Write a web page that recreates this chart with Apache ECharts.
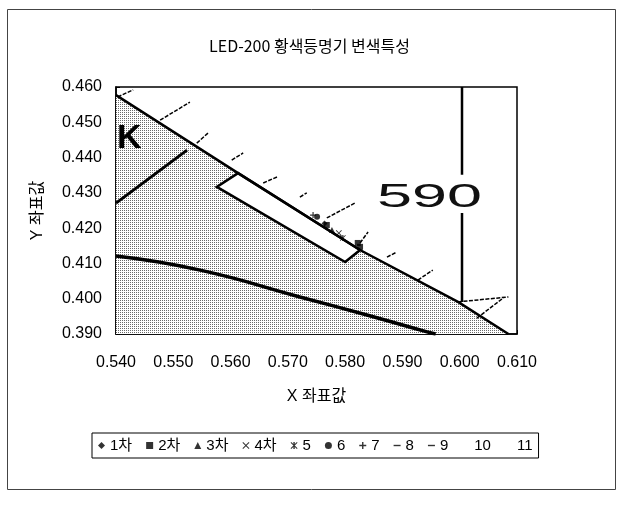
<!DOCTYPE html>
<html>
<head>
<meta charset="utf-8">
<script src="https://cdn.jsdelivr.net/npm/echarts@6/dist/echarts.min.js"></script>
<style>
html,body{margin:0;padding:0;background:#fff;}
#c{width:619px;height:506px;}
</style>
</head>
<body>
<div id="c"></div>
<script>
// ---- axis ticks ----
const xTicks = [0.540, 0.550, 0.560, 0.570, 0.580, 0.590, 0.600, 0.610];
const yTicks = [0.390, 0.400, 0.410, 0.420, 0.430, 0.440, 0.450, 0.460];

// ---- measured points (x, y) per series ----
const seriesNames = ['1차', '2차', '3차', '4차', '5', '6', '7', '8', '9', '10', '11'];
const s1 = [[0.5764, 0.4213]];
const s2 = [[0.5768, 0.4209]];
const s3 = [[0.5777, 0.4195]];
const s4 = [[0.5789, 0.4186]];
const s5 = [[0.5796, 0.4172]];
const s6 = [[0.5751, 0.4232]];
const s7 = [[0.5744, 0.4237]];
const s8 = [[0.5822, 0.4158]];
const s9 = [[0.5826, 0.4147]];
const s10 = [];
const s11 = [];

// ---- background chromaticity diagram (data coordinates) ----
const spectrumLocus = [[0.540, 0.4577], [0.5613, 0.4356], [0.5826, 0.4138], [0.5997, 0.3991], [0.6085, 0.3900]];
const grayRegion = [[0.540, 0.390], [0.540, 0.4577], [0.5613, 0.4356], [0.5826, 0.4138], [0.5997, 0.3991], [0.6085, 0.3900]];
const whiteBox = [[0.5613, 0.4356], [0.5576, 0.4317], [0.5800, 0.4104], [0.5826, 0.4138]];
const blackCurve = [[0.540, 0.4121], [0.5547, 0.4081], [0.5721, 0.4005], [0.5838, 0.3954], [0.5943, 0.3906], [0.5958, 0.3900]];
const diagonalLine = [[0.540, 0.4271], [0.5524, 0.4421]];
const line590Top = [[0.6004, 0.460], [0.6004, 0.4351]];
const line590Bottom = [[0.6004, 0.4243], [0.6004, 0.3991]];
const locusTicks = [
  [0.5403, 0.4572, 0.5430, 0.4592],
  [0.5477, 0.4506, 0.5529, 0.4557],
  [0.5541, 0.4441, 0.5561, 0.4470],
  [0.5602, 0.4393, 0.5622, 0.4413],
  [0.5657, 0.4328, 0.5681, 0.4345],
  [0.5721, 0.4288, 0.5733, 0.4300],
  [0.5768, 0.4229, 0.5817, 0.4271],
  [0.5826, 0.4158, 0.5840, 0.4189],
  [0.5873, 0.4118, 0.5890, 0.4132],
  [0.5927, 0.4053, 0.5953, 0.4081],
  [0.5997, 0.3991, 0.6085, 0.4005],
  [0.6030, 0.3945, 0.6076, 0.4002]
];

// stipple pattern for the gray region
const pc = document.createElement('canvas');
pc.width = 2; pc.height = 2;
const pctx = pc.getContext('2d');
pctx.fillStyle = '#fff'; pctx.fillRect(0, 0, 2, 2);
pctx.fillStyle = '#6a6a6a'; pctx.fillRect(0, 0, 1, 1);
const stipple = { image: pc, repeat: 'repeat' };

const FONT = '"Liberation Sans", Arial, "Noto Sans CJK KR", sans-serif';
const symbols = {
  diamond: 'diamond',
  rect: 'rect',
  triangle: 'triangle',
  cross: 'path://M1,0L5,4L9,0L10,1L6,5L10,9L9,10L5,6L1,10L0,9L4,5L0,1Z',
  star: 'path://M1,0L5,4L9,0L10,1L6,5L10,9L9,10L5,6L1,10L0,9L4,5L0,1ZM4,0H6V10H4Z',
  circle: 'circle',
  plus: 'path://M4,0H6V4H10V6H6V10H4V6H0V4H4Z',
  dash: 'path://M0,4H10V6H0Z'
};
const pointSets = [s1, s2, s3, s4, s5, s6, s7, s8, s9, s10, s11];
const pointSymbols = [symbols.diamond, symbols.rect, symbols.triangle, symbols.cross, symbols.star, symbols.circle, symbols.plus, symbols.dash, symbols.dash, 'none', 'none'];

const chart = echarts.init(document.getElementById('c'), null, { renderer: 'canvas' });

function polySeries(pts, fill, stroke, lw, z) {
  return {
    type: 'custom', coordinateSystem: 'cartesian2d', silent: true, z: z,
    data: [pts[0]],
    renderItem: function (params, api) {
      return {
        type: 'polygon',
        shape: { points: pts.map(p => api.coord(p)) },
        style: { fill: fill, stroke: stroke, lineWidth: lw }
      };
    }
  };
}
function lineSeries(pts, w, z) {
  return {
    type: 'line', data: pts, showSymbol: false, symbol: 'none', silent: true, z: z,
    smooth: false, lineStyle: { color: '#000', width: w }
  };
}

const series = [
  polySeries(grayRegion, stipple, null, 0, 1),
  polySeries(whiteBox, '#fff', '#000', 2.5, 2),
  lineSeries(spectrumLocus, 2.5, 3),
  Object.assign(lineSeries(blackCurve, 3.5, 3), { smooth: true }),
  lineSeries(diagonalLine, 3, 3),
  lineSeries(line590Top, 2.5, 3),
  lineSeries(line590Bottom, 2.5, 3),
  {
    type: 'custom', coordinateSystem: 'cartesian2d', silent: true, z: 4,
    data: locusTicks,
    renderItem: function (params, api) {
      const a = api.coord([api.value(0), api.value(1)]);
      const b = api.coord([api.value(2), api.value(3)]);
      return {
        type: 'line',
        shape: { x1: a[0], y1: a[1], x2: b[0], y2: b[1] },
        style: { stroke: '#000', lineWidth: 1.5, lineDash: [4, 1.5] }
      };
    }
  }
];
seriesNames.forEach((n, i) => {
  series.push({
    name: n, type: 'scatter', data: pointSets[i], z: 6,
    symbol: pointSymbols[i], symbolSize: 6,
    itemStyle: { color: '#000' }
  });
});

chart.setOption({
  animation: false,
  backgroundColor: '#fff',
  title: {
    text: 'LED-200 황색등명기 변색특성',
    left: 'center', top: 33,
    textStyle: { fontSize: 16, fontWeight: 'normal', color: '#000', fontFamily: '"Noto Sans CJK KR", sans-serif' }
  },
  grid: {
    left: 116, right: 102, top: 87, bottom: 172,
    show: true, borderColor: '#000', borderWidth: 1.5, backgroundColor: 'transparent'
  },
  xAxis: {
    type: 'value', min: xTicks[0], max: xTicks[xTicks.length - 1], interval: 0.01,
    name: 'X 좌표값', nameLocation: 'middle', nameGap: 55,
    nameTextStyle: { fontSize: 16, color: '#000', fontFamily: FONT },
    axisLine: { show: true, lineStyle: { color: '#000', width: 1.5 } },
    axisTick: { show: true, inside: true, length: 4, lineStyle: { color: '#000' } },
    splitLine: { show: false },
    axisLabel: { fontSize: 16, color: '#000', margin: 21, fontFamily: FONT, formatter: v => v.toFixed(3) }
  },
  yAxis: {
    type: 'value', min: yTicks[0], max: yTicks[yTicks.length - 1], interval: 0.01,
    name: 'Y 좌표값', nameLocation: 'middle', nameGap: 70,
    nameTextStyle: { fontSize: 16, color: '#000', fontFamily: FONT },
    axisLine: { show: true, lineStyle: { color: '#000', width: 1.5 } },
    axisTick: { show: true, inside: true, length: 4, lineStyle: { color: '#000' } },
    splitLine: { show: false },
    axisLabel: { fontSize: 16, color: '#000', margin: 14, fontFamily: FONT, formatter: v => v.toFixed(3) }
  },
  legend: {
    data: seriesNames.map((n, i) => (i >= 9 ? { name: n, icon: 'none' } : { name: n })),
    left: 92, top: 433, itemWidth: 7, itemHeight: 7, itemGap: 14,
    borderColor: '#000', borderWidth: 1, padding: [5, 6],
    textStyle: { fontSize: 15, color: '#000', fontFamily: FONT },
    selectedMode: false
  },
  graphic: [
    { type: 'rect', left: 5, top: 7, shape: { width: 608, height: 480 }, style: { fill: 'none', stroke: '#444', lineWidth: 1 }, z: -10 },
    { type: 'text', left: 117, top: 122, style: { text: 'K', font: 'bold 34px "Liberation Sans", Arial', fill: '#000' }, z: 10 },
    { type: 'text', left: 377, top: 181, scaleX: 1.85, style: { text: '590', font: '34px "Liberation Sans", Arial', fill: '#111' }, z: 10 }
  ],
  series: series
});
</script>
</body>
</html>
